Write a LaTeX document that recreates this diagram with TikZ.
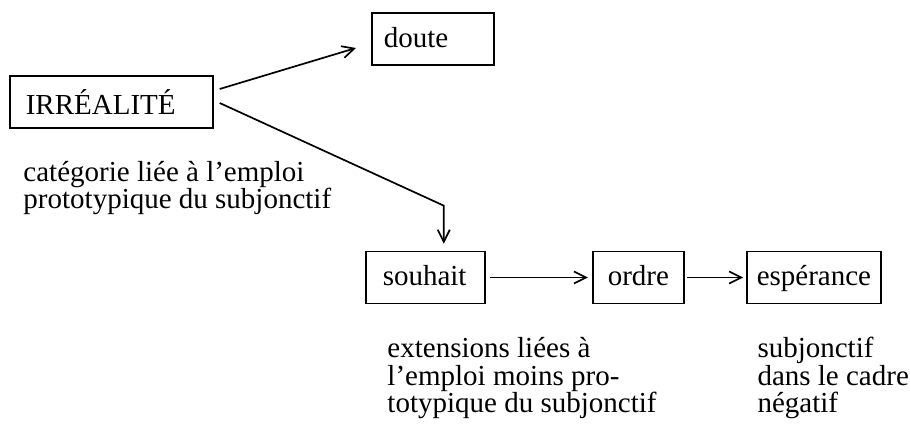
\documentclass[tikz,border=0pt]{standalone}
\usepackage{fontspec}
\setmainfont{Liberation Serif}
\usetikzlibrary{arrows.meta,positioning,calc}

\begin{document}
\begin{tikzpicture}[
    x=0.4138pt, y=-0.4138pt,
    font=\fontsize{12pt}{11.5pt}\selectfont,
    box/.style={draw, line width=0.7pt, anchor=west, align=left, minimum height=21.5pt, inner ysep=0pt},
    rowbox/.style={box, text height=8.2pt, text depth=1.4pt},
    arr/.style={-{Straight Barb[length=5pt, width=5pt]}, line width=0.7pt},
    note/.style={anchor=base west, align=left, inner sep=0pt}
  ]
  \useasboundingbox (0,0) rectangle (910,427);

  %% Main category
  \node[box, inner xsep=6.6pt, text width=70.8pt] (irr) at (9,102) {IRRÉALITÉ};
  \node[note] (irrtxt) at (23,209) {catégorie liée à l’emploi\\prototypique du subjonctif};

  %% Doubt
  \node[rowbox, inner xsep=5pt, text width=40.6pt] (doute) at (371,39) {doute};

  %% Extensions
  \node[rowbox, inner xsep=7pt, text width=35.2pt] (souhait) at (365,277.5) {souhait};
  \node[rowbox, inner xsep=6.2pt, text width=25.2pt] (ordre) at (592,277.5) {ordre};
  \node[rowbox, inner xsep=4.1pt, text width=47.2pt] (esp) at (746,277.5) {espérance};

  %% Notes below (base = last line)
  \node[note] (exttxt) at (387,413) {extensions liées à\\l’emploi moins pro-\\totypique du subjonctif};
  \node[note] (negtxt) at (757,413) {subjonctif\\dans le cadre\\négatif};

  %% Arrows
  \draw[arr] ($(irr.east)+(6,-13)$) -- ($(doute.west)+(-15,9)$);
  \coordinate (knee) at ($(souhait.north)+(18.5,-45)$);
  \draw[arr, shorten >=2.9pt] ($(irr.east)+(6,1)$) -- (knee) -- (knee |- souhait.north);
  \draw[arr, shorten <=1.7pt, shorten >=1.7pt] (souhait) -- (ordre);
  \draw[arr, shorten <=1.2pt, shorten >=1.2pt] (ordre) -- (esp);

\end{tikzpicture}
\end{document}
